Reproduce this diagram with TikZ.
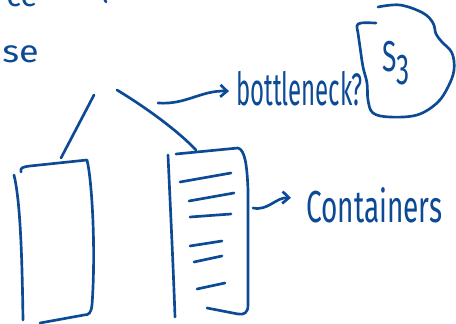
\documentclass[tikz,border=0pt]{standalone}
\usepackage{fontspec}
\setmainfont{Fira Sans}
\usetikzlibrary{arrows.meta}
\definecolor{ink}{RGB}{12,74,150}
\begin{document}
\begin{tikzpicture}[x=0.75pt,y=-0.75pt,
  pen/.style={draw=ink, line width=2pt, line cap=round, line join=round},
  hand/.style={text=ink, inner sep=0pt, font=\fontsize{18}{20}\selectfont},
  tip/.style={-{Straight Barb[length=5pt,width=9pt]}}]
\useasboundingbox (0,0) rectangle (456,324);
\clip (0,0) rectangle (456,324);

% fragments at the top left
\node[hand, anchor=base west] (fragA) at (6,7) {\scalebox{1.3}[1.3]{ce}};
\draw[pen] (104,-2) -- (106,2);
\node[hand, anchor=base east] (fragB) at (39,63) {\scalebox{1.5}[1.3]{se}};

% tree branches
\coordinate (root1) at (94,95);
\coordinate (root2) at (117,90);
\coordinate (lefttop) at (61,158);
\coordinate (righttop) at (196,150);
\draw[pen] (root1) -- (lefttop);
\draw[pen] (root2) .. controls (150,110) and (180,133) .. (righttop);

% left box
\draw[pen] (14,175) .. controls (20,200) and (22,250) .. (23,320);
\draw[pen] (21,172) .. controls (20,168) and (22,167) .. (30,166) -- (87,160)
  .. controls (92,180) and (96,250) .. (92,305)
  .. controls (91,313) and (89,315) .. (84,315) -- (40,323);

% right box
\draw[pen] (168,155) .. controls (170,200) and (173,260) .. (175,317);
\draw[pen] (176,154) -- (238,148) .. controls (245,150) and (247,165) .. (248,190)
  -- (248,305) .. controls (248,313) and (244,315) .. (238,314) -- (207,308);
\draw[pen] (180,182) -- (231,173);
\draw[pen] (189,201) -- (234,193);
\draw[pen] (190,217) -- (231,214);
\draw[pen] (190,246) -- (222,241);
\draw[pen] (194,262) -- (222,256);
\draw[pen] (197,289) -- (225,283);

% labels
\node[hand, anchor=base west] (bn) at (236,106) {\scalebox{1}[1.9]{bottleneck?}};
\node[hand, anchor=base west, font=\fontsize{21}{24}\selectfont] (ct) at (306,222) {\scalebox{1}[1.6]{Containers}};
\node[hand, anchor=base west] (s3) at (382,72) {\scalebox{1.1}[1.8]{S\raisebox{-0.3em}{3}}};

% arrows
\coordinate (a1) at (158,103);
\coordinate (a2) at (253,208);
\draw[pen, tip] (a1) to[out=-4, in=178] ([shift={(-7,2)}]bn.west);
\draw[pen, tip] (a2) to[out=-12, in=178] ([shift={(-15,-7)}]ct.west);

% S3 blob
\draw[pen] plot[smooth, tension=0.6] coordinates {(378,7) (400,5) (423,13) (433,23) (436,34)
  (442,42) (452,53) (454,70) (448,87) (437,103) (417,115) (390,117) (373,113) (368,100)
  (367,83) (363,67) (360,47) (358,33) (357,26) (361,23) (376,23)};
\end{tikzpicture}
\end{document}
